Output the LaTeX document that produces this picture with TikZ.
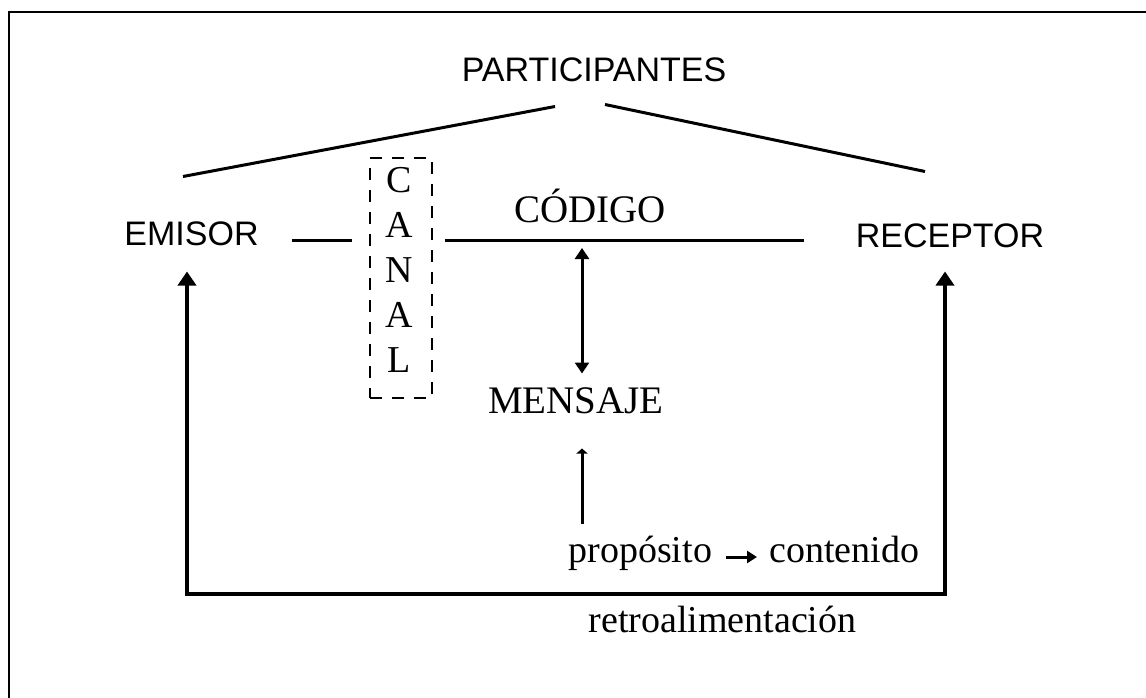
\documentclass[tikz,border=0pt]{standalone}
\usepackage{fontspec}
\setmainfont{Liberation Serif}
\setsansfont{Liberation Sans}
\usetikzlibrary{arrows.meta}
\begin{document}
\begin{tikzpicture}[x=1pt,y=-1pt,line width=3pt,
  sanslabel/.style={font=\sffamily\fontsize{34}{40}\selectfont,inner sep=0pt,text height=23pt,text depth=0pt},
  capslabel/.style={font=\fontsize{39}{46}\selectfont,inner sep=0pt,text height=25pt,text depth=0pt},
  textlabel/.style={font=\fontsize{38}{44}\selectfont,inner sep=0pt,text height=26pt,text depth=8pt},
  canalletter/.style={font=\fontsize{38}{44}\selectfont,inner sep=0pt},
  canalbox/.style={draw,line width=2pt,dash pattern=on 12pt off 10pt,minimum width=62pt,minimum height=240pt,inner sep=0pt},
  midtip/.style={{Triangle[width=14pt,length=11pt]}-{Triangle[width=14pt,length=11pt]}},
  flattip/.style={-{Triangle[width=11pt,length=5pt]}},
  smalltip/.style={-{Triangle[width=12pt,length=10pt]}}]
\useasboundingbox (0,0) rectangle (1146,698);
\clip (0,0) rectangle (1146,698);
\draw[line width=2pt] (9,710) -- (9,12) -- (1160,12);

% labels
\node[sanslabel,anchor=base] (part) at (594,82) {PARTICIPANTES};
\node[sanslabel,anchor=base] (emisor) at (191.5,245) {EMISOR};
\node[sanslabel,anchor=base] (receptor) at (950,247) {RECEPTOR};
\node[capslabel,anchor=base] (codigo) at (590,222) {CÓDIGO};
\node[capslabel,anchor=base] (mensaje) at (576,413) {MENSAJE};
\node[textlabel,anchor=base west] (prop) at (567,562) {propósito};
\node[textlabel,anchor=base west] (cont) at (768,562) {contenido};
\node[textlabel,anchor=base west] (retro) at (587,632) {retroalimentación};

% canal
\node[canalbox] (canal) at (401,278) {};
\foreach \l [count=\i] in {C,A,N,A,L}
  \node[canalletter,anchor=base] (c\i) at (399,148.25+44.75*\i) {\l};

\coordinate (axis) at (582,240);

% lines
\draw ([xshift=-39pt,yshift=-23pt]part.south) -- ([xshift=-8.5pt,yshift=44pt]emisor.north);
\draw ([xshift=11pt,yshift=-21pt]part.south) -- ([xshift=-25pt,yshift=51pt]receptor.north);
\draw ([xshift=31.5pt]emisor.east |- axis) -- ([xshift=-17pt]canal.west |- axis);
\draw ([xshift=12pt]canal.east |- axis) -- ([xshift=-50pt]receptor.west |- axis);
\draw[midtip] ([yshift=-8pt]axis) -- ([yshift=13pt]mensaje.north -| axis);
\draw[flattip] ([yshift=11pt]axis |- prop.north) -- ([yshift=-34pt]axis |- mensaje.south);
\draw[smalltip] ([xshift=12pt,yshift=5pt]prop.base east) -- ([xshift=-11pt,yshift=5pt]cont.base west);
\draw[line width=4pt,{Triangle[width=18pt,length=14pt]}-{Triangle[width=18pt,length=14pt]}]
  ([xshift=-4.5pt,yshift=-25pt]emisor.south) -- ++(0,322) -| ([xshift=-5pt,yshift=-23pt]receptor.south);
\end{tikzpicture}
\end{document}
